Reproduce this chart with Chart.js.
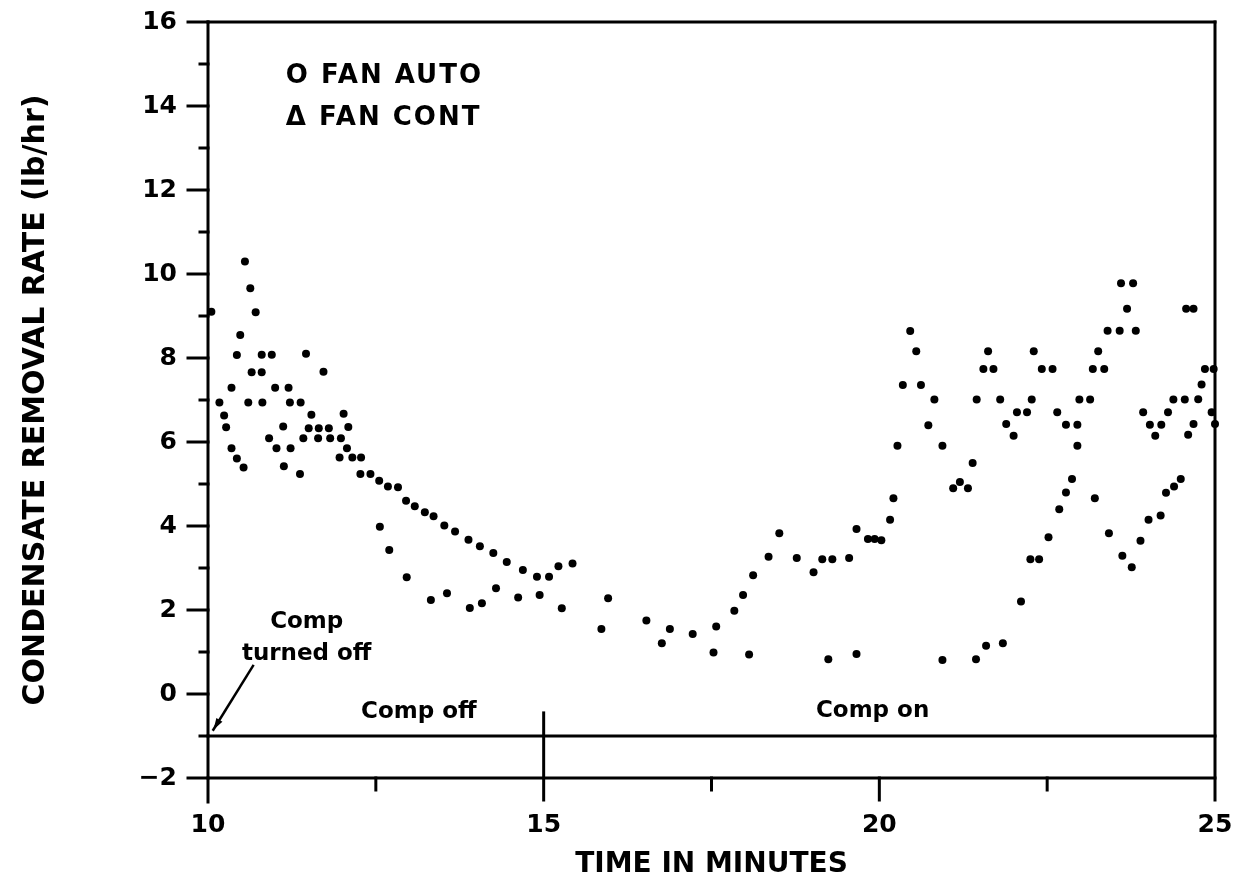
<!DOCTYPE html>
<html>
<head>
<meta charset="utf-8">
<script src="https://cdn.jsdelivr.net/npm/chart.js@4.4.1/dist/chart.umd.min.js"></script>
<style>
  html, body { margin: 0; padding: 0; background: #fff; }
  #wadah { width: 1242px; height: 890px; }
</style>
</head>
<body>
<div id="wadah"><canvas id="grafik" width="1242" height="890"></canvas></div>
<script>
// Fan auto (O) - time in minutes / condensate removal rate (lb/hr)
const fanAutoTime = [
  10.65, 10.8, 10.6, 10.81, 10.8, 10.95, 11.0, 11.2, 11.22, 11.38,
  11.5, 11.65, 11.8, 11.82, 11.98, 12.15, 12.28, 12.27, 12.42, 12.55,
  12.68, 12.83, 12.95, 13.08, 13.23, 13.36, 13.52, 13.68, 13.88, 14.05,
  14.25, 14.45, 14.69, 14.9, 15.08, 15.22, 15.43,
  15.96, 16.53, 16.88, 17.22, 17.57, 17.84, 17.97, 18.12, 18.35,
  18.51, 18.77, 19.02, 19.15, 19.3, 19.55, 19.66, 19.83, 19.93, 20.03,
  20.16, 20.21, 20.27, 20.35, 20.46, 20.55, 20.62, 20.73, 20.82, 20.94,
  21.1, 21.2, 21.32, 21.39, 21.45, 21.55, 21.62, 21.7, 21.8, 21.89,
  22.0, 22.05, 22.2, 22.27, 22.3, 22.42, 22.58, 22.65, 22.78, 22.95,
  22.98, 23.14, 23.18, 23.35, 23.26, 23.4, 23.58, 23.6, 23.78, 23.69,
  23.82, 23.93, 24.03, 24.2, 24.11, 24.3, 24.38, 24.55, 24.57, 24.68,
  24.75, 24.8, 24.85, 24.98, 24.95, 25.0
];
const fanAutoRate = [
  7.66, 7.66, 6.94, 6.94, 8.08, 8.08, 7.29, 7.29, 6.94, 6.94,
  6.33, 6.33, 6.33, 6.09, 6.09, 5.63, 5.63, 5.24, 5.24, 5.08,
  4.94, 4.92, 4.6, 4.47, 4.33, 4.23, 4.01, 3.87, 3.67, 3.52,
  3.36, 3.14, 2.95, 2.79, 2.79, 3.04, 3.11,
  2.28, 1.75, 1.55, 1.43, 1.61, 1.98, 2.36, 2.83, 3.27,
  3.83, 3.24, 2.9, 3.21, 3.21, 3.24, 3.93, 3.69, 3.69, 3.66,
  4.15, 4.66, 5.91, 7.36, 8.64, 8.16, 7.36, 6.4, 7.01, 5.91,
  4.9, 5.05, 4.9, 5.5, 7.01, 7.74, 8.16, 7.74, 7.01, 6.43,
  6.15, 6.71, 6.71, 7.01, 8.16, 7.74, 7.74, 6.71, 6.41, 6.41,
  7.01, 7.01, 7.74, 7.74, 8.16, 8.65, 8.65, 9.78, 9.78, 9.17,
  8.65, 6.71, 6.41, 6.41, 6.15, 6.71, 7.01, 7.01, 9.17, 9.17,
  7.02, 7.37, 7.74, 7.74, 6.71, 6.43
];

// Fan cont (triangle)
const fanContTime = [
  10.05, 10.55, 10.63, 10.71, 10.48, 10.43, 10.35, 10.17, 10.24, 10.27,
  10.35, 10.43, 10.53, 10.91, 11.02, 11.13, 11.12, 11.23, 11.37, 11.42,
  11.46, 11.54, 11.64, 11.72, 11.96, 12.02, 12.07, 12.09, 12.56, 12.7,
  12.96, 13.32, 13.56, 13.9, 14.08, 14.29, 14.62, 14.94, 15.27, 15.86,
  16.76, 17.53, 18.06, 19.24, 19.66, 20.94, 21.44, 21.59, 21.84, 22.11,
  22.25, 22.38, 22.52, 22.68, 22.78, 22.87, 22.95, 23.21, 23.42, 23.62,
  23.76, 23.89, 24.01, 24.19, 24.27, 24.39, 24.49, 24.6, 24.68
];
const fanContRate = [
  9.1, 10.3, 9.66, 9.09, 8.55, 8.07, 7.29, 6.94, 6.63, 6.35,
  5.85, 5.61, 5.39, 6.09, 5.85, 5.42, 6.37, 5.85, 5.24, 6.09,
  8.1, 6.65, 6.09, 7.67, 5.63, 6.67, 5.85, 6.36, 3.98, 3.43,
  2.78, 2.24, 2.4, 2.05, 2.16, 2.52, 2.3, 2.36, 2.04, 1.55,
  1.21, 0.99, 0.94, 0.83, 0.95, 0.81, 0.83, 1.15, 1.21, 2.2,
  3.21, 3.21, 3.73, 4.4, 4.8, 5.12, 5.91, 4.66, 3.83, 3.29,
  3.02, 3.65, 4.15, 4.25, 4.79, 4.94, 5.12, 6.17, 6.43
];

// Tick labels
const xLabelValues = [10, 15, 20, 25];
const yLabelValues = [-2, 0, 2, 4, 6, 8, 10, 12, 14, 16];

const FONT = '"DejaVu Sans", sans-serif';

function gabung(xs, ys) {
  return xs.map((t, i) => ({ x: t, y: ys[i] }));
}

// Frame, tick marks, comp line and annotations
const bingkaiPlugin = {
  id: 'bingkai',
  beforeDatasetsDraw(chart) {
    const { ctx, scales: { x, y } } = chart;
    const px = v => x.getPixelForValue(v);
    const py = v => y.getPixelForValue(v);
    const garis = (x1, y1, x2, y2) => {
      ctx.beginPath();
      ctx.moveTo(x1, y1);
      ctx.lineTo(x2, y2);
      ctx.stroke();
    };

    ctx.save();
    ctx.strokeStyle = '#000';
    ctx.lineWidth = 3;
    ctx.lineCap = 'square';

    // border
    garis(px(10), py(16), px(25), py(16));
    garis(px(10), py(16), px(10), py(-2) + 24);
    garis(px(25), py(16), px(25), py(-2) + 22);
    garis(px(10), py(-2), px(25), py(-2));
    // compressor status line
    garis(px(10), py(-1), px(25), py(-1));

    // y ticks
    for (let v = -2; v <= 16; v++) {
      const pjg = v % 2 === 0 ? 20 : 8;
      garis(px(10) - pjg, py(v), px(10), py(v));
    }
    // x ticks
    [12.5, 17.5, 22.5].forEach(t => garis(px(t), py(-2), px(t), py(-2) + 12));
    [20].forEach(t => garis(px(t), py(-2), px(t), py(-2) + 22));
    garis(px(15), py(-0.45), px(15), py(-2) + 22);

    // arrow "comp turned off"
    ctx.lineWidth = 2.5;
    const ax1 = px(10.67), ay1 = py(0.67);
    const ax2 = px(10.08), ay2 = py(-0.85);
    garis(ax1, ay1, ax2, ay2);
    const sudut = Math.atan2(ay2 - ay1, ax2 - ax1);
    ctx.beginPath();
    ctx.moveTo(ax2, ay2);
    ctx.lineTo(ax2 - 12 * Math.cos(sudut - 0.3), ay2 - 12 * Math.sin(sudut - 0.3));
    ctx.lineTo(ax2 - 12 * Math.cos(sudut + 0.3), ay2 - 12 * Math.sin(sudut + 0.3));
    ctx.closePath();
    ctx.fillStyle = '#000';
    ctx.fill();
    ctx.restore();
  },
  afterDraw(chart) {
    const { ctx, scales: { x, y } } = chart;
    const px = v => x.getPixelForValue(v);
    const py = v => y.getPixelForValue(v);

    ctx.save();
    ctx.fillStyle = '#000';
    ctx.textBaseline = 'middle';

    // legend text
    ctx.font = 'bold 26px ' + FONT;
    ctx.textAlign = 'left';
    ctx.letterSpacing = '2px';
    ctx.fillText('O FAN AUTO', px(11.16), py(14.72));
    ctx.fillText('\u0394 FAN CONT', px(11.16), py(13.7));

    // annotations
    ctx.letterSpacing = '0px';
    ctx.font = 'bold 23px ' + FONT;
    ctx.textAlign = 'center';
    ctx.fillText('Comp', px(11.47), py(1.71));
    ctx.fillText('turned off', px(11.47), py(0.95));
    ctx.fillText('Comp off', px(13.14), py(-0.43));
    ctx.fillText('Comp on', px(19.9), py(-0.4));
    ctx.restore();
  }
};

const ctx = document.getElementById('grafik').getContext('2d');

new Chart(ctx, {
  type: 'scatter',
  data: {
    datasets: [
      {
        label: 'FAN AUTO',
        data: gabung(fanAutoTime, fanAutoRate),
        pointStyle: 'circle',
        pointRadius: 4,
        backgroundColor: '#000',
        borderColor: '#000',
        borderWidth: 0,
        clip: false
      },
      {
        label: 'FAN CONT',
        data: gabung(fanContTime, fanContRate),
        pointStyle: 'circle',
        pointRadius: 4,
        backgroundColor: '#000',
        borderColor: '#000',
        borderWidth: 0,
        clip: false
      }
    ]
  },
  options: {
    responsive: false,
    animation: false,
    devicePixelRatio: 1,
    layout: {
      padding: { top: 22, right: 27, left: 0, bottom: 0 }
    },
    plugins: {
      legend: { display: false },
      tooltip: { enabled: false }
    },
    scales: {
      x: {
        type: 'linear',
        min: 10,
        max: 25,
        afterFit(scale) {
          scale.height = 112;
          scale.paddingLeft = 0;
          scale.paddingRight = 0;
        },
        grid: { display: false, drawTicks: false },
        border: { display: false },
        ticks: {
          stepSize: 5,
          padding: 32,
          color: '#000',
          font: { family: FONT, size: 25, weight: 'bold' },
          maxRotation: 0,
          callback: v => xLabelValues.includes(v) ? String(v) : ''
        },
        title: {
          display: true,
          text: 'TIME IN MINUTES',
          color: '#000',
          font: { family: FONT, size: 28, weight: 'bold' },
          padding: { top: 8, bottom: 8 }
        }
      },
      y: {
        type: 'linear',
        min: -2,
        max: 16,
        afterFit(scale) {
          scale.width = 208;
          scale.paddingTop = 0;
          scale.paddingBottom = 0;
        },
        grid: { display: false, drawTicks: false },
        border: { display: false },
        ticks: {
          stepSize: 1,
          padding: 31,
          color: '#000',
          font: { family: FONT, size: 25, weight: 'bold' },
          callback: v => yLabelValues.includes(v) ? (v < 0 ? '\u2212' + Math.abs(v) : String(v)) : ''
        },
        title: {
          display: true,
          text: 'CONDENSATE REMOVAL RATE (lb/hr)',
          color: '#000',
          font: { family: FONT, size: 30, weight: 'bold' },
          padding: { top: 18, bottom: 18 }
        }
      }
    }
  },
  plugins: [bingkaiPlugin]
});
</script>
</body>
</html>
